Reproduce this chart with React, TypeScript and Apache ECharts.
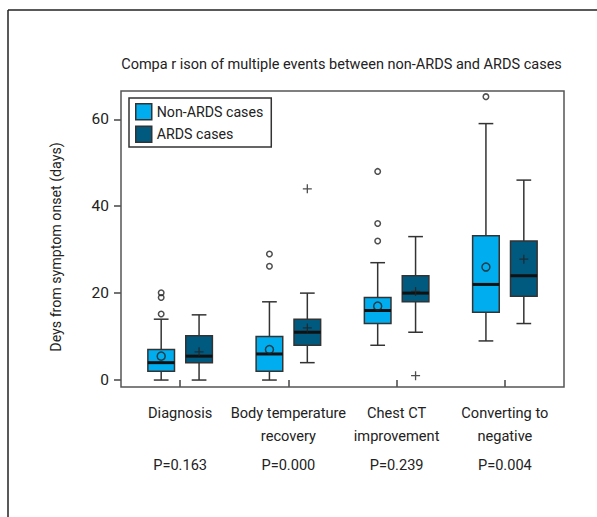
import React, { useEffect, useRef } from "react";
import * as echarts from "echarts";

const titleText = "Compa r ison of multiple events between non-ARDS and ARDS cases";
const yAxisName = "Deys from symptom onset (days)";
const categories = [
  "Diagnosis",
  "Body temperature\nrecovery",
  "Chest CT\nimprovement",
  "Converting to\nnegative",
];
const pLabels = ["P=0.163", "P=0.000", "P=0.239", "P=0.004"];
const yTicks = [0, 20, 40, 60];
const seriesNames = ["Non-ARDS cases", "ARDS cases"];

// [lower whisker, Q1, median, Q3, upper whisker]
const nonArdsBoxes = [
  [0, 2, 4, 7, 14],
  [0, 2, 6, 10, 18],
  [8, 13, 16, 19, 27],
  [9, 15.6, 22, 33.2, 59],
];
const ardsBoxes = [
  [0, 4, 5.5, 10.2, 15],
  [4, 8, 11, 14, 20],
  [11, 18, 20, 24, 33],
  [13, 19.3, 24, 32, 46],
];
const nonArdsMeans = [5.5, 7, 17, 26];
const ardsMeans = [6.5, 12, 20.4, 27.8];
// [category index, value]
const nonArdsOutliers = [
  [0, 15.2],
  [0, 19],
  [0, 20.1],
  [1, 26.2],
  [1, 29],
  [2, 32],
  [2, 36],
  [2, 48],
  [3, 65.2],
];
const ardsOutliers = [
  [1, 44],
  [2, 1],
];

const FONT = "Roboto, 'Liberation Sans', sans-serif";
const LIGHT = "#00AEEF";
const DARK = "#005A80";
const INK = "#222";
const PLUS = "path://M0,5L10,5M5,0L5,10";
const OFFSET_FRAC = 0.175;
const BOX_FRAC = 0.246;
const CAP_FRAC = 0.136;

const makeBoxRenderer = (side: number) => (params: any, api: any) => {
  const idx = api.value(0);
  const band = api.size([1, 0])[0];
  const cx = api.coord([idx, 0])[0] + side * band * OFFSET_FRAC;
  const halfW = (band * BOX_FRAC) / 2;
  const capHalf = (band * CAP_FRAC) / 2;
  const ys = [1, 2, 3, 4, 5].map((d) => api.coord([idx, api.value(d)])[1]);
  const [yLow, yQ1, yMed, yQ3, yHigh] = ys;
  const ls = { stroke: "#333", lineWidth: 1.5 };
  return {
    type: "group",
    children: [
      { type: "line", shape: { x1: cx, y1: yQ3, x2: cx, y2: yHigh }, style: ls },
      { type: "line", shape: { x1: cx, y1: yQ1, x2: cx, y2: yLow }, style: ls },
      { type: "line", shape: { x1: cx - capHalf, y1: yHigh, x2: cx + capHalf, y2: yHigh }, style: ls },
      { type: "line", shape: { x1: cx - capHalf, y1: yLow, x2: cx + capHalf, y2: yLow }, style: ls },
      {
        type: "rect",
        shape: { x: cx - halfW, y: yQ3, width: 2 * halfW, height: yQ1 - yQ3 },
        style: { fill: api.visual("color"), stroke: "#333", lineWidth: 1.5 },
      },
      {
        type: "line",
        shape: { x1: cx - halfW, y1: yMed, x2: cx + halfW, y2: yMed },
        style: { stroke: "#111", lineWidth: 3 },
      },
    ],
  };
};

export default function App() {
  const ref = useRef<HTMLDivElement>(null);
  useEffect(() => {
    document.body.style.margin = "0";
    const chart = echarts.init(ref.current!, undefined, { renderer: "svg" });
    const symOff = 108.25 * OFFSET_FRAC;
    chart.setOption({
      animation: false,
      backgroundColor: "#fff",
      grid: { left: 126, top: 91, width: 433, height: 296 },
      legend: {
        data: seriesNames,
        orient: "vertical",
        left: 129,
        top: 98,
        padding: [5, 8, 4, 6],
        itemGap: 5,
        itemWidth: 16,
        itemHeight: 16,
        icon: "rect",
        borderColor: "#333",
        borderWidth: 1.5,
        backgroundColor: "#fff",
        itemStyle: { borderColor: "#333", borderWidth: 1.5 },
        textStyle: { fontFamily: FONT, fontSize: 14.2, color: INK, lineHeight: 16 },
      },
      xAxis: [
        {
          type: "category",
          data: categories,
          position: "bottom",
          axisLine: { show: false },
          axisTick: { show: true, alignWithLabel: true, length: 7, lineStyle: { color: "#444", width: 1.5 } },
          axisLabel: { fontFamily: FONT, fontSize: 14.6, lineHeight: 23, color: INK, margin: 14.5, interval: 0 },
        },
        {
          type: "category",
          data: pLabels,
          position: "bottom",
          axisLine: { show: false },
          axisTick: { show: false },
          axisLabel: { fontFamily: FONT, fontSize: 14.6, lineHeight: 22, color: INK, margin: 66.5, interval: 0 },
        },
      ],
      yAxis: {
        type: "value",
        min: -1.6,
        max: 66.5,
        offset: 5,
        splitLine: { show: false },
        axisLine: { show: false },
        axisTick: { show: true, length: 7, customValues: yTicks, lineStyle: { color: "#444", width: 1.5 } },
        axisLabel: { fontFamily: FONT, fontSize: 15.5, color: INK, margin: 12, customValues: yTicks },
        name: yAxisName,
        nameLocation: "middle",
        nameRotate: 90,
        nameGap: 58,
        nameTextStyle: { fontFamily: FONT, fontSize: 14.2, color: INK, padding: [0, 16, 0, 0] },
      },
      graphic: [
        { type: "line", shape: { x1: 8, y1: 10, x2: 8, y2: 517 }, style: { stroke: INK, lineWidth: 1.5 } },
        { type: "line", shape: { x1: 8, y1: 10, x2: 597, y2: 10 }, style: { stroke: INK, lineWidth: 1.5 } },
        {
          type: "rect",
          z: 10,
          shape: { x: 121, y: 91, width: 443, height: 296 },
          style: { fill: "none", stroke: "#555", lineWidth: 1.5 },
        },
        {
          type: "text",
          x: 341.5,
          y: 64,
          style: {
            text: titleText,
            fontFamily: FONT,
            fontSize: 14.5,
            fill: INK,
            align: "center",
            verticalAlign: "middle",
          },
        },
      ],
      series: [
        {
          type: "custom",
          name: seriesNames[0],
          renderItem: makeBoxRenderer(-1),
          data: nonArdsBoxes.map((b, i) => [i, ...b]),
          encode: { x: 0, y: [1, 2, 3, 4, 5] },
          itemStyle: { color: LIGHT },
          z: 2,
        },
        {
          type: "custom",
          name: seriesNames[1],
          renderItem: makeBoxRenderer(1),
          data: ardsBoxes.map((b, i) => [i, ...b]),
          encode: { x: 0, y: [1, 2, 3, 4, 5] },
          itemStyle: { color: DARK },
          z: 2,
        },
        {
          type: "scatter",
          name: "Non-ARDS mean",
          data: nonArdsMeans.map((v, i) => [i, v]),
          symbol: "circle",
          symbolSize: 8,
          symbolOffset: [-symOff, 0],
          itemStyle: { color: "transparent", borderColor: INK, borderWidth: 1.5 },
          z: 5,
        },
        {
          type: "scatter",
          name: "Non-ARDS outliers",
          data: nonArdsOutliers,
          symbol: "circle",
          symbolSize: 5.5,
          symbolOffset: [-symOff, 0],
          itemStyle: { color: "transparent", borderColor: INK, borderWidth: 1.5 },
          z: 5,
        },
        {
          type: "scatter",
          name: "ARDS mean",
          data: ardsMeans.map((v, i) => [i, v]),
          symbol: PLUS,
          symbolSize: 9,
          symbolOffset: [symOff, 0],
          itemStyle: { color: "transparent", borderColor: INK, borderWidth: 1.3 },
          z: 5,
        },
        {
          type: "scatter",
          name: "ARDS outliers",
          data: ardsOutliers,
          symbol: PLUS,
          symbolSize: 9,
          symbolOffset: [symOff, 0],
          itemStyle: { color: "transparent", borderColor: INK, borderWidth: 1.3 },
          z: 5,
        },
      ],
    });
    return () => chart.dispose();
  }, []);
  return <div ref={ref} style={{ width: 597, height: 517 }} />;
}
